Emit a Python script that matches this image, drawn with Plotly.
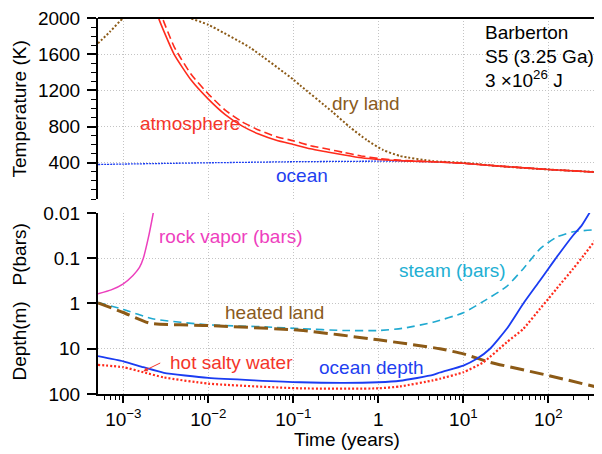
import numpy as np
import plotly.graph_objects as go

# ---------------- data (time in years) ----------------
# top panel: temperatures (K)
dry_t = [5.04e-4, 7e-4, 1e-3, 1.5e-3, 2.5e-3, 4e-3, 6.1e-3, 0.01, 0.031, 0.1, 0.12,
         0.29, 0.46, 0.73, 1.14, 1.8, 4.4, 10, 27, 100, 400]
dry_T = [1720, 1850, 2000, 2080, 2110, 2080, 2000, 1925, 1672, 1320, 1257,
         961, 796, 652, 541, 475, 418, 400, 362, 326, 296]

ocean_t = [5.04e-4, 1e-3, 3e-3, 0.01, 0.1, 1, 1.8, 4.4, 10, 27, 100, 400]
ocean_T = [381, 386, 393, 400, 412, 418, 418, 411, 395, 363, 326, 295]

atm_t = [2.45e-3, 2.6e-3, 3.98e-3, 6.31e-3, 0.01, 0.0158, 0.0251, 0.0398, 0.0631,
         0.1, 0.158, 0.251, 0.398, 0.631, 1, 1.58, 2.51, 4.4, 10, 27, 100, 400]
atm_T = [2120, 2001, 1595, 1311, 1104, 933, 805, 715, 649,
         602, 555, 520, 486, 455, 436, 425, 419, 411, 395, 363, 326, 295]

atm2_t = atm_t
atm2_T = [2230, 2114, 1679, 1375, 1161, 982, 852, 759, 689,
          644, 590, 552, 513, 476, 448, 432, 421, 411, 395, 363, 326, 295]

# bottom panel: depth (m) / pressure (bars)
rock_t = [5.04e-4, 7.2e-4, 1e-3, 1.3e-3, 1.55e-3, 1.72e-3, 1.96e-3, 2.25e-3, 2.4e-3]
rock_v = [0.61, 0.5, 0.367, 0.24, 0.16, 0.1, 0.037, 0.01, 0.005]

steam_t = [5.04e-4, 1e-3, 2.2e-3, 0.01, 0.05, 0.12, 0.4, 1, 2, 4.4, 10, 17.2,
           32.4, 50.8, 79.7, 125, 196, 400]
steam_v = [0.95, 1.35, 2.18, 2.96, 3.3, 3.6, 3.95, 3.96, 3.5, 2.6, 1.6, 0.9,
           0.42, 0.17, 0.062, 0.034, 0.026, 0.023]

heated_t = [5.04e-4, 1e-3, 2.06e-3, 0.01, 0.12, 1, 5.3, 10, 20.6, 100, 380]
heated_v = [0.97, 1.58, 2.73, 3.07, 3.9, 6.36, 10, 13, 19.9, 39, 71]

depth_t = [5.04e-4, 1e-3, 1.72e-3, 3e-3, 0.01, 0.12, 0.4, 1, 1.8, 4.4, 5.3, 10, 14.4,
           20.6, 32.4, 50.8, 79.7, 100, 125, 196, 246, 309]
depth_v = [14.6, 19, 25.6, 34, 44, 55, 57, 55, 51, 38, 33.5, 23.5, 16.7,
           10, 3.63, 1.0, 0.31, 0.17, 0.095, 0.031, 0.019, 0.0095]

salt_t = [5.04e-4, 1e-3, 1.72e-3, 3e-3, 0.01, 0.12, 1, 1.8, 4.4, 5.3, 10, 17.2, 32.4,
          50.8, 79.7, 100, 125, 196, 260, 356]
salt_v = [22.7, 25.6, 33, 43, 59, 75, 75, 68, 50, 46, 33, 19.9, 7.2,
          3.63, 1.31, 0.79, 0.47, 0.17, 0.087, 0.04]

x_ticks = [1e-3, 1e-2, 1e-1, 1, 10, 100]
x_ticktext = ["10<sup>\u22123</sup>", "10<sup>\u22122</sup>", "10<sup>\u22121</sup>",
              "1", "10<sup>1</sup>", "10<sup>2</sup>"]
T_ticks = [400, 800, 1200, 1600, 2000]
T_ticktext = ["400", "800", "1200", "1600", "2000"]
d_ticks = [0.01, 0.1, 1, 10, 100]
d_ticktext = ["0.01", "0.1", "1", "10", "100"]

# ---------------- styling ----------------
FONT = "Liberation Sans, Arial, Helvetica, sans-serif"
RED = "#ff2b1c"
BROWN = "#8c5a16"
BLUE = "#1a3cf2"
MAGENTA = "#ec3fbd"
CYAN = "#1fa9d0"
GRID = "#c4c4c4"
GDASH = "1px,2px"
XR = [np.log10(5.04e-4), np.log10(405)]

fig = go.Figure()


def add(x, y, color, width, dash, xa, ya):
    fig.add_trace(go.Scatter(x=x, y=y, mode="lines",
                             line=dict(color=color, width=width, dash=dash,
                                       shape="spline", smoothing=0.5),
                             xaxis=xa, yaxis=ya, hoverinfo="skip", showlegend=False))


add(ocean_t, ocean_T, BLUE, 1.3, "2px,1px", "x", "y")
add(dry_t, dry_T, BROWN, 2, "2px,2px", "x", "y")
add(atm2_t, atm2_T, RED, 1.6, "8px,4px", "x", "y")
add(atm_t, atm_T, RED, 1.6, "solid", "x", "y")

add(rock_t, rock_v, MAGENTA, 1.5, "solid", "x2", "y2")
add(steam_t, steam_v, CYAN, 1.6, "8px,5px", "x2", "y2")
add(heated_t, heated_v, BROWN, 3, "14px,6px", "x2", "y2")
add(salt_t, salt_v, RED, 2.2, "2px,2px", "x2", "y2")
add(depth_t, depth_v, BLUE, 1.8, "solid", "x2", "y2")

minor_x = [k * 10.0 ** e for e in range(-4, 3) for k in range(2, 10)]
minor_x = [v for v in minor_x if XR[0] <= np.log10(v) <= XR[1]]

tickfont = dict(family=FONT, size=19, color="black")

# page body adds an 8px offset; figure is sized so the plot area lands at
# x 98..600, y 18..394 of the 602x454 window
fig.update_layout(
    width=594, height=446,
    margin=dict(l=90, r=2, t=10, b=60, autoexpand=False),
    paper_bgcolor="white", plot_bgcolor="white",
    font=dict(family=FONT, size=19, color="black"),
    xaxis=dict(type="log", range=XR, domain=[0, 1], anchor="y",
               tickmode="array", tickvals=x_ticks, showticklabels=False, ticks="",
               showgrid=True, gridcolor=GRID, griddash=GDASH, gridwidth=1,
               showline=False, zeroline=False, automargin=False),
    yaxis=dict(range=[0, 2000], domain=[0.5186, 1], anchor="x",
               tickmode="array", tickvals=T_ticks, ticktext=T_ticktext,
               ticks="outside", ticklen=9, tickwidth=1.5, tickcolor="black",
               ticklabelstandoff=3, tickfont=tickfont, automargin=False,
               ticklabeloverflow="allow",
               showgrid=True, gridcolor=GRID, griddash=GDASH, gridwidth=1,
               showline=True, linewidth=2, linecolor="black", zeroline=False,
               minor=dict(tickmode="array", tickvals=list(range(0, 2001, 100)),
                          ticks="outside", ticklen=5, tickwidth=1,
                          tickcolor="black", showgrid=False)),
    xaxis2=dict(type="log", range=XR, domain=[0, 1], anchor="y2",
                tickmode="array", tickvals=x_ticks, ticktext=x_ticktext,
                ticks="outside", ticklen=7, tickwidth=1.5, tickcolor="black",
                tickfont=tickfont, automargin=False, ticklabeloverflow="allow",
                showgrid=True, gridcolor=GRID, griddash=GDASH, gridwidth=1,
                showline=True, linewidth=2, linecolor="black", zeroline=False,
                minor=dict(tickmode="array", tickvals=minor_x, ticks="outside",
                           ticklen=4, tickwidth=1, tickcolor="black",
                           showgrid=False)),
    yaxis2=dict(type="log", range=[2, -2], domain=[0, 0.4814], anchor="x2",
                tickmode="array", tickvals=d_ticks, ticktext=d_ticktext,
                ticks="outside", ticklen=9, tickwidth=1.5, tickcolor="black",
                ticklabelstandoff=3, tickfont=tickfont, automargin=False,
                ticklabeloverflow="allow",
                showgrid=True, gridcolor=GRID, griddash=GDASH, gridwidth=1,
                showline=True, linewidth=2, linecolor="black", zeroline=False),
)

# frame (top and right edges)
fig.add_shape(type="line", xref="paper", yref="paper", x0=0, x1=1, y0=1, y1=1,
              line=dict(color="black", width=2))
fig.add_shape(type="line", xref="paper", yref="paper", x0=1, x1=1, y0=0, y1=1,
              line=dict(color="black", width=2))

anns = []


def note(text, x, y, xref, yref, color, xanchor="center", size=19):
    anns.append(dict(text=text, x=x, y=y, xref=xref, yref=yref, showarrow=False,
                     xanchor=xanchor, yanchor="middle",
                     font=dict(family=FONT, size=size, color=color)))


# top panel labels
note("atmosphere", -2.215, 833, "x", "y", "#f4352a")
note("dry land", -0.151, 1053, "x", "y", "#8a5a1c")
note("ocean", -0.901, 260, "x", "y", "#1f3ff0")
note("Barberton", 1.232, 1837, "x", "y", "black", "left")
note("S5 (3.25 Ga)", 1.232, 1572, "x", "y", "black", "left")
note("3 \u00d710<sup>26</sup> J", 1.232, 1330, "x", "y", "black", "left")

# bottom panel labels
note("rock vapor (bars)", -2.604, -1.482, "x2", "y2", "#ee3fbe", "left")
note("heated land", -1.824, 0.199, "x2", "y2", "#8a5a1c", "left")
note("steam (bars)", 0.216, -0.73, "x2", "y2", "#22afd3", "left")
note("hot salty water", -2.471, 1.305, "x2", "y2", "#f4352a", "left")
note("ocean depth", -0.725, 1.416, "x2", "y2", "#1f3ff0", "left")

anns.append(dict(x=-2.765, y=1.498, xref="x2", yref="y2",
                 ax=-2.548, ay=1.299, axref="x2", ayref="y2",
                 text="", showarrow=True, arrowhead=2, arrowsize=0.9,
                 arrowwidth=1, arrowcolor="#f4352a"))

# axis titles
anns.append(dict(text="Temperature (K)", x=-0.1554, y=0.7593, xref="paper", yref="paper",
                 textangle=-90, showarrow=False, xanchor="center", yanchor="middle",
                 font=dict(family=FONT, size=19, color="black")))
anns.append(dict(text="Depth(m)\u00a0\u00a0 P(bars)", x=-0.1554, y=0.246,
                 xref="paper", yref="paper",
                 textangle=-90, showarrow=False, xanchor="center", yanchor="middle",
                 font=dict(family=FONT, size=19, color="black")))
anns.append(dict(text="Time (years)", x=0.496, y=-0.1223, xref="paper", yref="paper",
                 showarrow=False, xanchor="center", yanchor="middle",
                 font=dict(family=FONT, size=19, color="black")))

fig.update_layout(annotations=anns)

fig.write_html("out.html")
